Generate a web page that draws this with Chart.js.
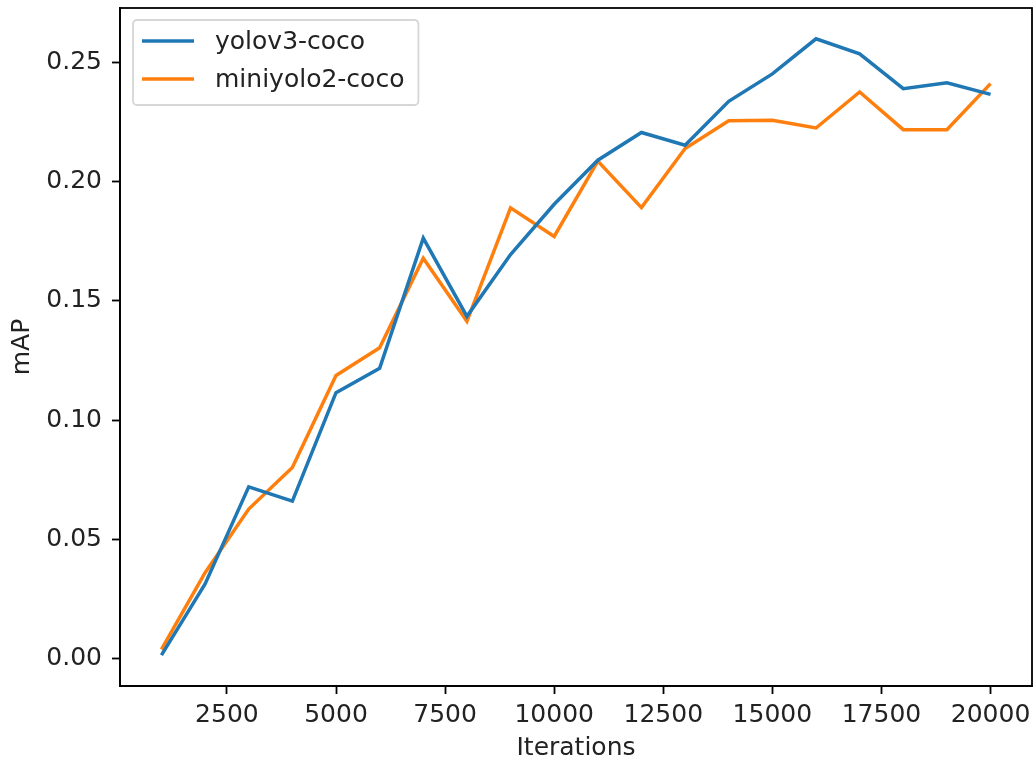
<!DOCTYPE html>
<html>
<head>
<meta charset="utf-8">
<script src="https://cdn.jsdelivr.net/npm/chart.js@4/dist/chart.umd.min.js"></script>
<style>
  html, body { margin: 0; padding: 0; background: #fff; }
  #wrap { width: 1036px; height: 764px; }
</style>
</head>
<body>
<div id="wrap"><canvas id="chart" width="1036" height="764"></canvas></div>
<script>
// Data
const ITERATIONS = [1000, 2000, 3000, 4000, 5000, 6000, 7000, 8000, 9000, 10000,
                    11000, 12000, 13000, 14000, 15000, 16000, 17000, 18000, 19000, 20000];
const YOLOV3   = [0.0014, 0.0313, 0.0720, 0.0660, 0.1115, 0.1217, 0.1763, 0.1435, 0.1694, 0.1905,
                  0.2090, 0.2206, 0.2153, 0.2337, 0.2452, 0.2599, 0.2536, 0.2390, 0.2415, 0.2366];
const MINIYOLO = [0.0038, 0.0360, 0.0627, 0.0801, 0.1187, 0.1303, 0.1679, 0.1414, 0.1890, 0.1770,
                  0.2086, 0.1891, 0.2139, 0.2255, 0.2257, 0.2225, 0.2376, 0.2218, 0.2218, 0.2411];
const SERIES_NAMES = ['yolov3-coco', 'miniyolo2-coco'];
const X_TICKS = [2500, 5000, 7500, 10000, 12500, 15000, 17500, 20000];
const Y_TICKS = [0.00, 0.05, 0.10, 0.15, 0.20, 0.25];

const FONT = 'DejaVu Sans';
const FS = 25;

// matplotlib-style 5% margins around the data
function padded(vals) {
  const lo = Math.min(...vals), hi = Math.max(...vals);
  const m = (hi - lo) * 0.05;
  return [lo - m, hi + m];
}
const [xMin, xMax] = padded(ITERATIONS);
const [yMin, yMax] = padded(YOLOV3.concat(MINIYOLO));

const toPoints = (ys) => ys.map((y, i) => ({ x: ITERATIONS[i], y }));

// Frame on all four sides + matplotlib-like legend inside the axes
const framePlugin = {
  id: 'frame',
  afterDraw(chart) {
    const { ctx, chartArea: a } = chart;
    ctx.save();
    ctx.strokeStyle = '#000';
    ctx.lineWidth = 1.8;
    ctx.strokeRect(a.left, a.top, a.right - a.left, a.bottom - a.top);

    // legend
    ctx.font = `${FS}px "${FONT}"`;
    const labels = chart.data.datasets.map(d => d.label);
    const textW = Math.max(...labels.map(l => ctx.measureText(l).width));
    const bx = a.left + 13, by = a.top + 12;
    const bw = 96 + textW, bh = 85, r = 4;
    ctx.beginPath();
    ctx.moveTo(bx + r, by);
    ctx.arcTo(bx + bw, by, bx + bw, by + bh, r);
    ctx.arcTo(bx + bw, by + bh, bx, by + bh, r);
    ctx.arcTo(bx, by + bh, bx, by, r);
    ctx.arcTo(bx, by, bx + bw, by, r);
    ctx.closePath();
    ctx.fillStyle = 'rgba(255,255,255,0.8)';
    ctx.fill();
    ctx.strokeStyle = '#d6d6d6';
    ctx.lineWidth = 1.8;
    ctx.stroke();

    ctx.textBaseline = 'middle';
    ctx.textAlign = 'left';
    chart.data.datasets.forEach((d, i) => {
      const y = by + 21 + i * 38;
      ctx.strokeStyle = d.borderColor;
      ctx.lineWidth = 3.5;
      ctx.beginPath();
      ctx.moveTo(bx + 9, y);
      ctx.lineTo(bx + 61, y);
      ctx.stroke();
      ctx.fillStyle = '#222';
      ctx.fillText(d.label, bx + 82, y + 1);
    });
    ctx.restore();
  }
};

const tickGrid = {
  display: true,
  drawOnChartArea: false,
  drawTicks: true,
  tickLength: 8,
  tickColor: '#000',
  tickWidth: 1.8,
};

new Chart(document.getElementById('chart'), {
  type: 'line',
  data: {
    datasets: [
      { label: SERIES_NAMES[0], data: toPoints(YOLOV3),   borderColor: '#1f77b4' },
      { label: SERIES_NAMES[1], data: toPoints(MINIYOLO), borderColor: '#ff7f0e' },
    ].map(d => ({ ...d, borderWidth: 3.5, pointRadius: 0, tension: 0, fill: false })),
  },
  options: {
    responsive: false,
    animation: false,
    layout: { padding: { left: 0, top: 8, right: 4, bottom: 0 } },
    plugins: {
      legend: { display: false },
      tooltip: { enabled: false },
    },
    scales: {
      x: {
        type: 'linear',
        min: xMin,
        max: xMax,
        afterBuildTicks: s => { s.ticks = X_TICKS.map(v => ({ value: v })); },
        afterFit: s => { s.height = 78; s.paddingLeft = 0; s.paddingRight = 0; },
        grid: tickGrid,
        border: { display: true, color: '#000', width: 1.8 },
        ticks: {
          color: '#222',
          font: { family: FONT, size: FS },
          padding: 6,
          maxRotation: 0,
          autoSkip: false,
          callback: v => String(v),
        },
        title: {
          display: true,
          text: 'Iterations',
          color: '#222',
          font: { family: FONT, size: FS },
          padding: { top: 0, bottom: 1 },
        },
      },
      y: {
        type: 'linear',
        min: yMin,
        max: yMax,
        afterBuildTicks: s => { s.ticks = Y_TICKS.map(v => ({ value: v })); },
        afterFit: s => { s.width = 120; s.paddingTop = 0; s.paddingBottom = 0; },
        grid: tickGrid,
        border: { display: true, color: '#000', width: 1.8 },
        ticks: {
          color: '#222',
          font: { family: FONT, size: FS },
          padding: 10,
          autoSkip: false,
          callback: v => v.toFixed(2),
        },
        title: {
          display: true,
          text: 'mAP',
          color: '#222',
          font: { family: FONT, size: FS },
          padding: { top: 7, bottom: 0 },
        },
      },
    },
  },
  plugins: [framePlugin],
});
</script>
</body>
</html>
